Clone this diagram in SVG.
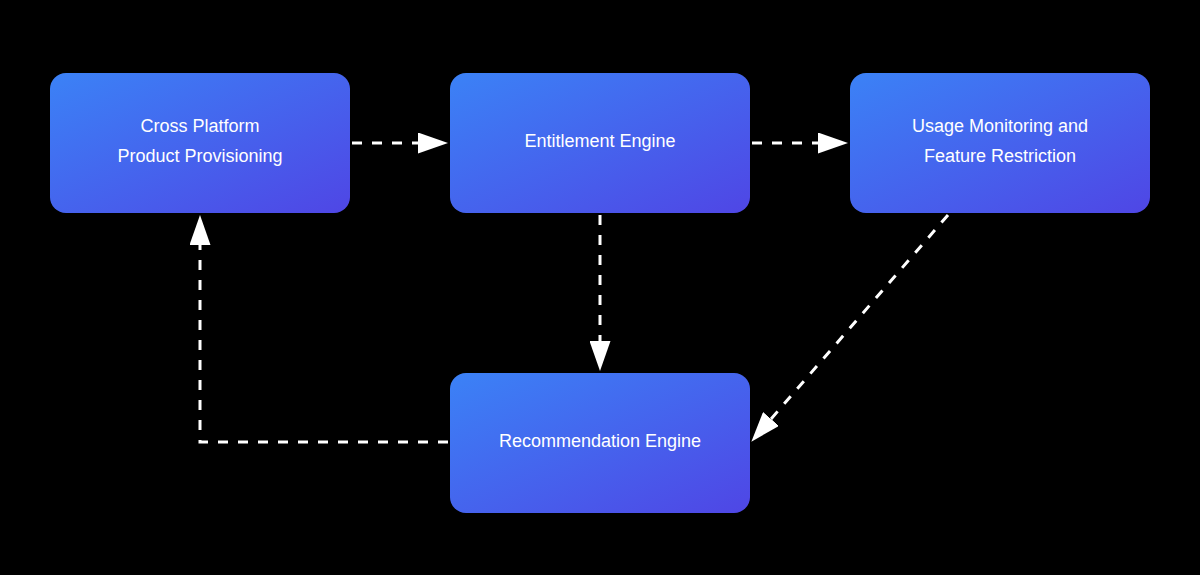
<svg xmlns="http://www.w3.org/2000/svg" width="1200" height="575" viewBox="0 0 1200 575">
<style>
.n{fill:url(#g)}
.t{font-family:"Liberation Sans",Arial,sans-serif;font-size:18px;fill:#fff;text-anchor:middle}
.c{stroke:#fff;stroke-width:3;stroke-dasharray:10,10;fill:none;marker-end:url(#a)}
</style>
<defs>
<linearGradient id="g" x1="0" y1="0" x2="1" y2="1"><stop offset="0" stop-color="#3b82f6"/><stop offset="1" stop-color="#4f46e5"/></linearGradient>
<marker id="a" markerWidth="10" markerHeight="7" refX="0" refY="3.5" orient="auto" markerUnits="strokeWidth"><path d="M0,0L10,3.5L0,7z" fill="#fff"/></marker>
</defs>
<rect width="1200" height="575" fill="#000"/>
<g id="n1"><rect class="n" x="50" y="73" width="300" height="140" rx="16"/><text class="t" x="200" y="132">Cross Platform</text><text class="t" x="200" y="162">Product Provisioning</text></g>
<g id="n2"><rect class="n" x="450" y="73" width="300" height="140" rx="16"/><text class="t" x="600" y="147">Entitlement Engine</text></g>
<g id="n3"><rect class="n" x="850" y="73" width="300" height="140" rx="16"/><text class="t" x="1000" y="132">Usage Monitoring and</text><text class="t" x="1000" y="162">Feature Restriction</text></g>
<g id="n4"><rect class="n" x="450" y="373" width="300" height="140" rx="16"/><text class="t" x="600" y="447">Recommendation Engine</text></g>
<g id="edges">
<path class="c" d="M352,143H418"/>
<path class="c" d="M752,143H818"/>
<path class="c" d="M600,215V341"/>
<path class="c" d="M948,215L771,419"/>
<path class="c" d="M448,442H200V245"/>
</g>
</svg>
